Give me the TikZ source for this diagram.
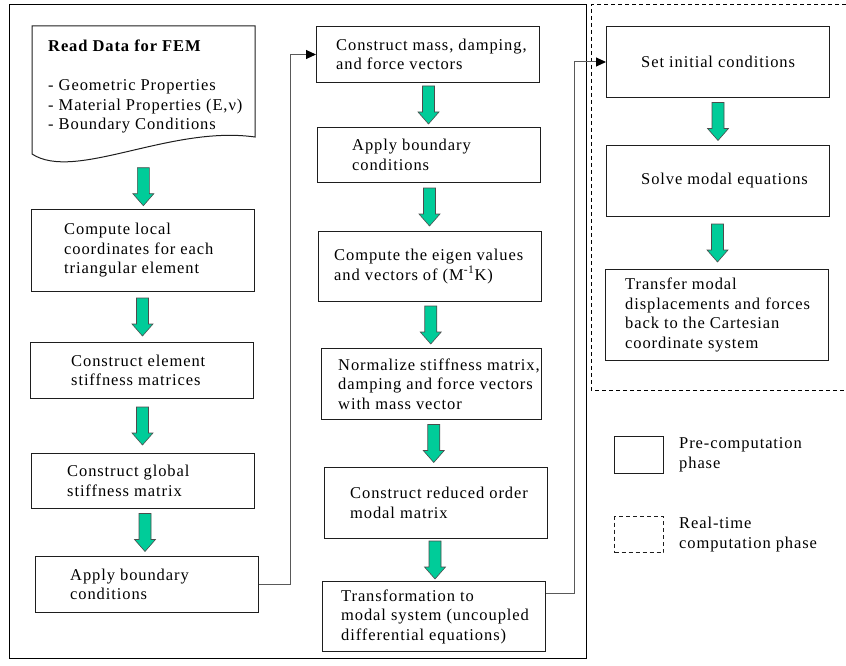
\documentclass[tikz,border=0pt]{standalone}
\usepackage{fontspec}
\setmainfont[LetterSpace=5.5]{Liberation Serif}
\usetikzlibrary{arrows.meta}
\usetikzlibrary{calc}
\usepackage{xcolor}
\definecolor{fembox}{RGB}{30,30,30}
\definecolor{femgreen}{RGB}{0,204,153}

\begin{document}
\begin{tikzpicture}[x=1pt,y=-1pt,
    stage/.style={draw=fembox, line width=1pt, anchor=north west, inner sep=0pt, minimum width=223pt},
    stagetext/.style={anchor=west, align=left, inner sep=0pt, font=\fontsize{16.5}{19.5}\selectfont},
    link/.style={draw=black!65, line width=1pt, -{Triangle[length=10pt,width=9pt,black]}},
    grnarrow/.pic={\draw[draw=black!70, fill=femgreen, line width=0.6pt]
      (-6,-19) -- (6,-19) -- (6,7) -- (10.5,7) -- (0,19) -- (-10.5,7) -- (-6,7) -- cycle;}]
      \useasboundingbox (0,0) rectangle (846,666);

      % Phase frames
      \draw[line width=1pt] (9,5) rectangle (586,658);
      \draw[line width=1pt, dash pattern=on 4pt off 3pt] (846,5) -- (591,5) -- (591,390) -- (846,390);

      % First column
      \node[inner sep=0pt, anchor=north west, minimum width=223pt, minimum height=138pt] (readdata) at (32,26) {};
      \draw[draw=fembox, line width=1pt] (32,26) -- (255,26) -- (255,137)
        .. controls (170,125) and (75,182) .. (32,154) -- cycle;
      \node[stagetext, anchor=north west] at (48,40) {\textbf{Read Data for FEM}\\[19.5pt]
        - Geometric Properties\\- Material Properties (E,ν)\\- Boundary Conditions};

      \node[stage, minimum height=82pt] (localcoord) at (31,209) {};
      \node[stagetext] at ([xshift=33pt]localcoord.west) {Compute local\\coordinates for each\\triangular element};

      \node[stage, minimum height=56pt] (elemstiff) at (30,342) {};
      \node[stagetext] at ([xshift=41pt]elemstiff.west) {Construct element\\stiffness matrices};

      \node[stage, minimum height=55pt] (globstiff) at (31,453) {};
      \node[stagetext] at ([xshift=36pt]globstiff.west) {Construct global\\stiffness matrix};

      \node[stage, minimum height=56pt] (applybcone) at (35,556) {};
      \node[stagetext] at ([xshift=35pt]applybcone.west) {Apply boundary\\conditions};

      % Second column
      \node[stage, minimum height=56pt] (massvec) at (316,26) {};
      \node[stagetext] at ([xshift=20pt]massvec.west) {Construct mass, damping,\\and force vectors};

      \node[stage, minimum height=55pt] (applybctwo) at (317,127) {};
      \node[stagetext] at ([xshift=35pt]applybctwo.west) {Apply boundary\\conditions};

      \node[stage, minimum height=70pt] (eigen) at (318,231) {};
      \node[stagetext] at ([xshift=16pt]eigen.west) {Compute the eigen values\\and vectors of (M\textsuperscript{-1}K)};

      \node[stage, minimum width=220pt, minimum height=71pt] (normalize) at (321,348) {};
      \node[stagetext] at ([xshift=17pt]normalize.west) {Normalize stiffness matrix,\\damping and force vectors\\with mass vector};

      \node[stage, minimum height=71pt] (reduced) at (324,467) {};
      \node[stagetext] at ([xshift=26pt]reduced.west) {Construct reduced order\\modal matrix};

      \node[stage, minimum height=70pt] (transform) at (322,581) {};
      \node[stagetext] at ([xshift=19pt]transform.west) {Transformation to\\modal system (uncoupled\\differential equations)};

      % Third column
      \node[stage, minimum height=71pt] (setic) at (606,26) {};
      \node[stagetext] at ([xshift=35pt]setic.west) {Set initial conditions};

      \node[stage, minimum height=71pt] (solve) at (606,145) {};
      \node[stagetext] at ([xshift=35pt]solve.west) {Solve modal equations};

      \node[stage, minimum height=91pt] (transfer) at (605,269) {};
      \node[stagetext] at ([xshift=20pt]transfer.west) {Transfer modal\\displacements and forces\\back to the Cartesian\\coordinate system};

      % Green block arrows
      \foreach \a/\b in {readdata/localcoord, localcoord/elemstiff, elemstiff/globstiff, globstiff/applybcone,
                         massvec/applybctwo, applybctwo/eigen, eigen/normalize, normalize/reduced, reduced/transform,
                         setic/solve, solve/transfer}
      {
        \path ($(\a.south)!0.5!(\b.north)$) pic {grnarrow};
      }

      % Links between columns
      \draw[link] (applybcone.east) -- ++(31,0) |- (massvec.west);
      \draw[link] ([yshift=23pt]transform.east) -- ++(28,0) |- (setic.west);

      % Legend
      \node[stage, minimum width=49pt, minimum height=37pt] (precomp) at (614,436) {};
      \node[stagetext] at ([xshift=15pt]precomp.east) {Pre-computation\\phase};
      \node[stage, minimum width=49pt, minimum height=36pt, dash pattern=on 4pt off 3pt] (realtime) at (614,516) {};
      \node[stagetext] at ([xshift=15pt]realtime.east) {Real-time\\computation phase};
  \end{tikzpicture}
\end{document}
